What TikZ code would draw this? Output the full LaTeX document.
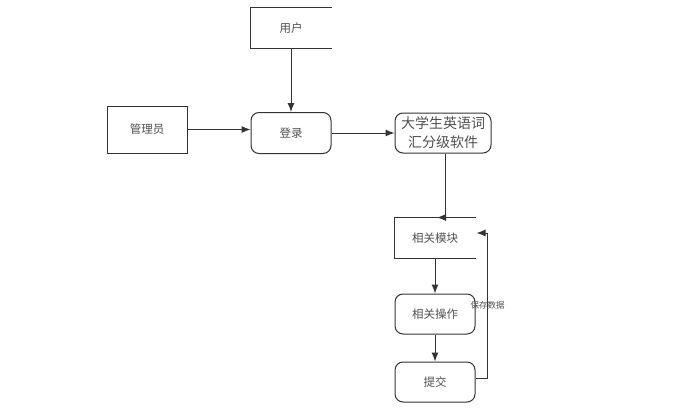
\documentclass[tikz,border=0pt]{standalone}
\usepackage{fontspec}
\newfontfamily\cjk{Noto Sans CJK SC}
\usetikzlibrary{arrows.meta}
\definecolor{linec}{HTML}{333333}
\definecolor{textc}{HTML}{505050}
\begin{document}
\begin{tikzpicture}[x=1pt,y=-1pt,
  base/.style={line width=1pt, inner sep=0pt, text=textc, font=\cjk\fontsize{11.5}{14}\selectfont},
  proc/.style={base, draw=linec, rounded corners=8pt, minimum width=80pt, minimum height=41pt},
  rectbox/.style={base, draw=linec, minimum width=80pt, minimum height=47pt},
  store/.style={base, minimum width=80pt, minimum height=40pt},
  arr/.style={draw=linec, line width=1pt, -{Latex[length=9pt,width=7pt]}}
]
\useasboundingbox (0,0) rectangle (692,412);
\fill[white] (0,0) rectangle (692,412);

\node[store] (user) at (291,28) {用户};
\draw[linec, line width=1pt] (user.north east) -- (user.north west) -- (user.south west) -- (user.south east);

\node[rectbox] (admin) at (147,129.5) {管理员};
\node[proc] (login) at (291,133) {登录};
\node[proc, minimum width=96pt, minimum height=40pt, align=center,
      font=\cjk\fontsize{14}{19}\selectfont] (soft) at (443,133) {大学生英语词\\汇分级软件};

\node[store] (module) at (435,238) {相关模块};
\draw[linec, line width=1pt] (module.north east) -- (module.north west) -- (module.south west) -- (module.south east);

\node[proc, minimum height=40pt] (op) at (435,314) {相关操作};
\node[proc, minimum height=40pt] (submit) at (435,382) {提交};

\draw[arr] (user.south) -- (login.north);
\draw[arr] (admin.east) -- (admin.east -| login.west);
\draw[arr] (login.east) -- (soft.west);
\draw[arr] ([xshift=2pt]soft.south) -- ([xshift=10pt]module.north) -- ([xshift=2pt]module.north);
\draw[arr] (module.south) -- (op.north);
\draw[arr] (op.south) -- (submit.north);
\draw[arr] ([yshift=4pt]submit.east) -- ++(12,0) |- ([xshift=1pt,yshift=5pt]module.east)
  node[pos=0.25, base, font=\cjk\fontsize{8.5}{10}\selectfont] (save) {保存数据};
\end{tikzpicture}
\end{document}
